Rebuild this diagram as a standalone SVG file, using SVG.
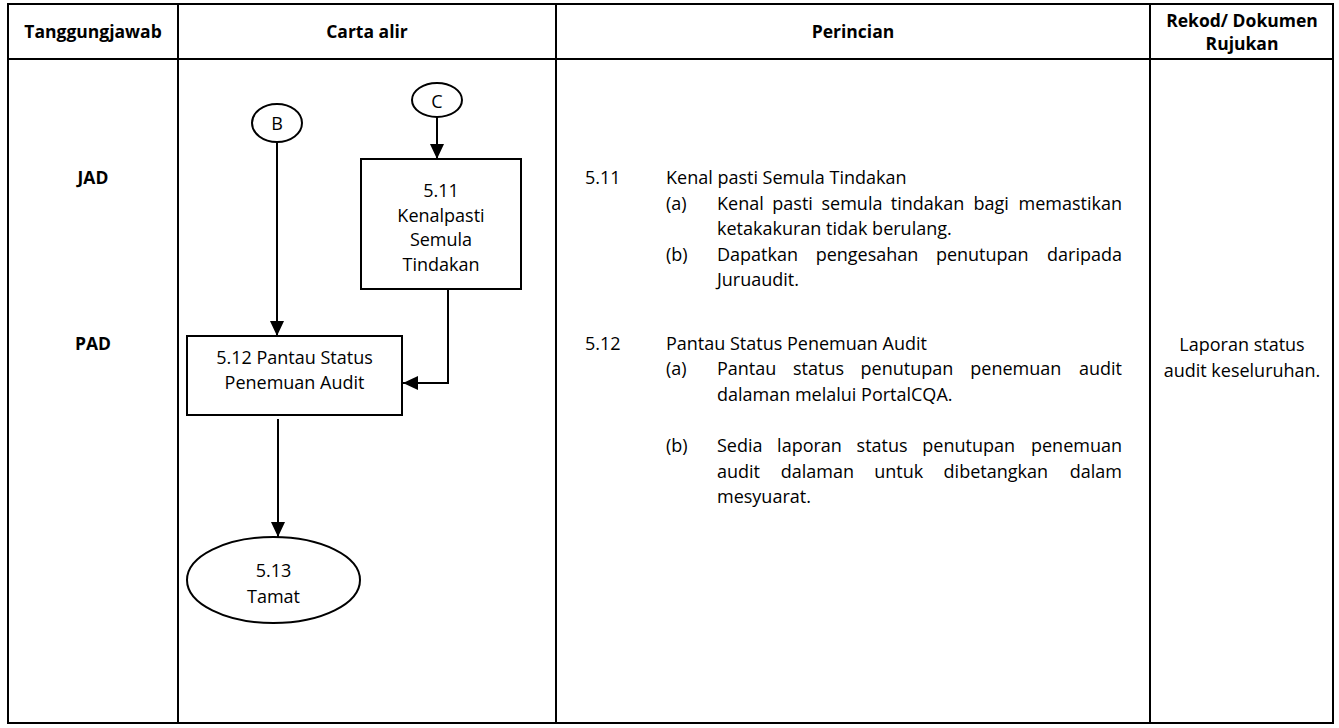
<svg xmlns="http://www.w3.org/2000/svg" width="1339" height="728" viewBox="0 0 1339 728">
<style>
.t{font-family:"Open Sans","Liberation Sans",sans-serif;font-size:18px;fill:#000}
.b{font-family:"Open Sans","Liberation Sans",sans-serif;font-size:17.5px;font-weight:bold;fill:#000}
.c{text-anchor:middle}
.e{text-anchor:end}
.tbl{fill:none;stroke:#000;stroke-width:2}
.shape{fill:#fff;stroke:#000;stroke-width:2}
.conn{fill:none;stroke:#000;stroke-width:2}
</style>
<defs>
<marker id="arr" markerUnits="userSpaceOnUse" viewBox="0 0 15 14" refX="15" refY="7" markerWidth="15" markerHeight="14" orient="auto">
<path d="M0,0 L15,7 L0,14 z" fill="#000"/>
</marker>
</defs>
<rect width="1339" height="728" fill="#fff"/>
<g id="table">
<rect class="tbl" x="8" y="4" width="1325" height="719"/>
<line class="tbl" x1="8" y1="59" x2="1333" y2="59"/>
<line class="tbl" x1="178" y1="4" x2="178" y2="723"/>
<line class="tbl" x1="556" y1="4" x2="556" y2="723"/>
<line class="tbl" x1="1150" y1="4" x2="1150" y2="723"/>
<text class="b c" x="93" y="38">Tanggungjawab</text>
<text class="b c" x="367" y="38">Carta alir</text>
<text class="b c" x="853" y="38">Perincian</text>
<text class="b c" x="1242" y="27">Rekod/ Dokumen</text>
<text class="b c" x="1242" y="50">Rujukan</text>
</g>
<g id="responsibility">
<text class="b c" x="93" y="184">JAD</text>
<text class="b c" x="93" y="349.5">PAD</text>
</g>
<g id="connectors">
<path class="conn" d="M277,142 V336" marker-end="url(#arr)"/>
<path class="conn" d="M437,117 V159" marker-end="url(#arr)"/>
<path class="conn" d="M448,289 V383 H403" marker-end="url(#arr)"/>
<path class="conn" d="M278,419 V537" marker-end="url(#arr)"/>
</g>
<g id="conn-B">
<ellipse class="shape" cx="277" cy="123" rx="25" ry="19"/>
<text class="t c" x="277" y="129.5">B</text>
</g>
<g id="conn-C">
<ellipse class="shape" cx="437" cy="100" rx="25" ry="17"/>
<text class="t c" x="437" y="108">C</text>
</g>
<g id="step-5-11">
<rect class="shape" x="361" y="159" width="160" height="130"/>
<text class="t c" x="441" y="197">5.11</text>
<text class="t c" x="441" y="221.5">Kenalpasti</text>
<text class="t c" x="441" y="246">Semula</text>
<text class="t c" x="441" y="270.5">Tindakan</text>
</g>
<g id="step-5-12">
<rect class="shape" x="187" y="336" width="215" height="79"/>
<text class="t c" x="294.5" y="364">5.12 Pantau Status</text>
<text class="t c" x="294.5" y="389">Penemuan Audit</text>
</g>
<g id="end-5-13">
<ellipse class="shape" cx="273.5" cy="580" rx="86.5" ry="43"/>
<text class="t c" x="273.5" y="577">5.13</text>
<text class="t c" x="273.5" y="603">Tamat</text>
</g>
<g id="details">
<text class="t" x="585" y="184">5.11</text>
<text class="t" x="666" y="184">Kenal pasti Semula Tindakan</text>
<text class="t" x="666" y="209.5">(a)</text>
<text class="t" y="209.5"><tspan x="717">Kenal</tspan><tspan x="772.3">pasti</tspan><tspan x="821.5">semula</tspan><tspan x="890.8">tindakan</tspan><tspan x="973.4">bagi</tspan></text>
<text class="t e" x="1122" y="209.5">memastikan</text>
<text class="t" x="717" y="235">ketakakuran tidak berulang.</text>
<text class="t" x="666" y="260.5">(b)</text>
<text class="t" y="260.5"><tspan x="717">Dapatkan</tspan><tspan x="815.7">pengesahan</tspan><tspan x="935.9">penutupan</tspan></text>
<text class="t e" x="1122" y="260.5">daripada</text>
<text class="t" x="717" y="286">Juruaudit.</text>

<text class="t" x="585" y="349.5">5.12</text>
<text class="t" x="666" y="349.5">Pantau Status Penemuan Audit</text>
<text class="t" x="666" y="375">(a)</text>
<text class="t" y="375"><tspan x="717">Pantau</tspan><tspan x="793">status</tspan><tspan x="860.6">penutupan</tspan><tspan x="970.3">penemuan</tspan></text>
<text class="t e" x="1122" y="375">audit</text>
<text class="t" x="717" y="400.5">dalaman melalui PortalCQA.</text>
<text class="t" x="666" y="452">(b)</text>
<text class="t" y="452"><tspan x="717">Sedia</tspan><tspan x="777.1">laporan</tspan><tspan x="856.6">status</tspan><tspan x="922.3">penutupan</tspan></text>
<text class="t e" x="1122" y="452">penemuan</text>
<text class="t" y="477.5"><tspan x="717">audit</tspan><tspan x="780.7">dalaman</tspan><tspan x="874.2">untuk</tspan><tspan x="943.6">dibetangkan</tspan></text>
<text class="t e" x="1122" y="477.5">dalam</text>
<text class="t" x="717" y="503">mesyuarat.</text>
</g>
<g id="records">
<text class="t c" x="1242" y="351">Laporan status</text>
<text class="t c" x="1242" y="376.5">audit keseluruhan.</text>
</g>
</svg>
